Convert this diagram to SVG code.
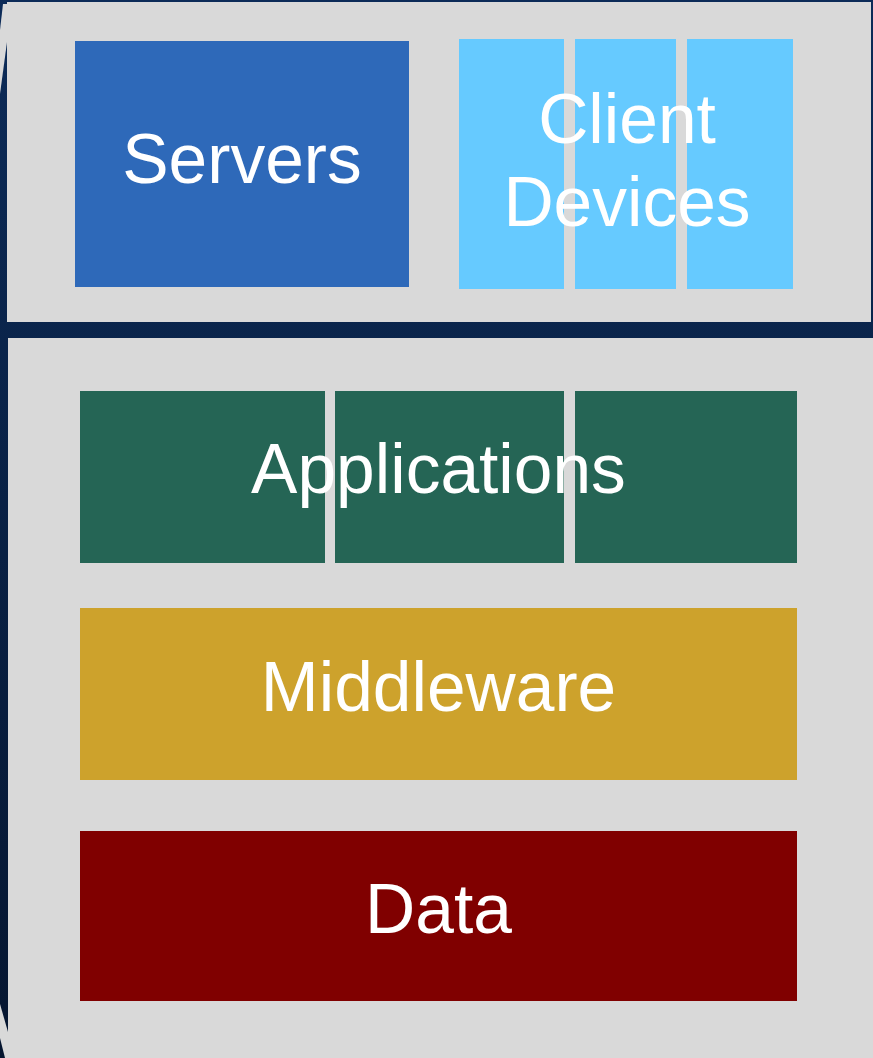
<svg xmlns="http://www.w3.org/2000/svg" width="873" height="1058" viewBox="0 0 873 1058">
  <defs>
    <linearGradient id="bg" x1="0" y1="0" x2="0" y2="1">
      <stop offset="0" stop-color="#0c2b58"/>
      <stop offset="1" stop-color="#061630"/>
    </linearGradient>
  </defs>
  <style>
    .panel { fill: #d9d9d9; }
    .label { font-family: "Liberation Sans", Arial, sans-serif; font-size: 69.5px; fill: #ffffff; text-anchor: middle; }
    .srv { fill: #2e69b9; }
    .cli { fill: #66caff; }
    .app { fill: #256555; }
    .mid { fill: #cda22c; }
    .dat { fill: #800000; }
  </style>

  <!-- backdrop -->
  <rect x="0" y="0" width="873" height="1058" fill="url(#bg)"/>

  <!-- upper tier panel -->
  <rect class="panel" x="7" y="2" width="864" height="320"/>
  <polygon class="panel" points="3,4 7,4 7,42 0,94 0,30"/>
  <!-- lower tier panel -->
  <rect class="panel" x="8" y="338" width="865" height="720"/>
  <polygon class="panel" points="0,1004 8,1032 8,1058 5,1058 0,1038"/>

  <g id="servers">
    <rect class="srv" x="75" y="41" width="334" height="246"/>
    <text class="label" x="242" y="183">Servers</text>
  </g>

  <g id="client-devices">
    <rect class="cli" x="459" y="39" width="105" height="250"/>
    <rect class="cli" x="575" y="39" width="101" height="250"/>
    <rect class="cli" x="687" y="39" width="106" height="250"/>
    <text class="label" x="627" y="143">Client</text>
    <text class="label" x="627" y="226">Devices</text>
  </g>

  <g id="applications">
    <rect class="app" x="80" y="391" width="245" height="172"/>
    <rect class="app" x="335" y="391" width="229" height="172"/>
    <rect class="app" x="575" y="391" width="222" height="172"/>
    <text class="label" x="438.5" y="493">Applications</text>
  </g>

  <g id="middleware">
    <rect class="mid" x="80" y="608" width="717" height="172"/>
    <text class="label" x="438.5" y="711">Middleware</text>
  </g>

  <g id="data">
    <rect class="dat" x="80" y="831" width="717" height="170"/>
    <text class="label" x="438.5" y="933">Data</text>
  </g>

  <g id="connectors"/>
</svg>
